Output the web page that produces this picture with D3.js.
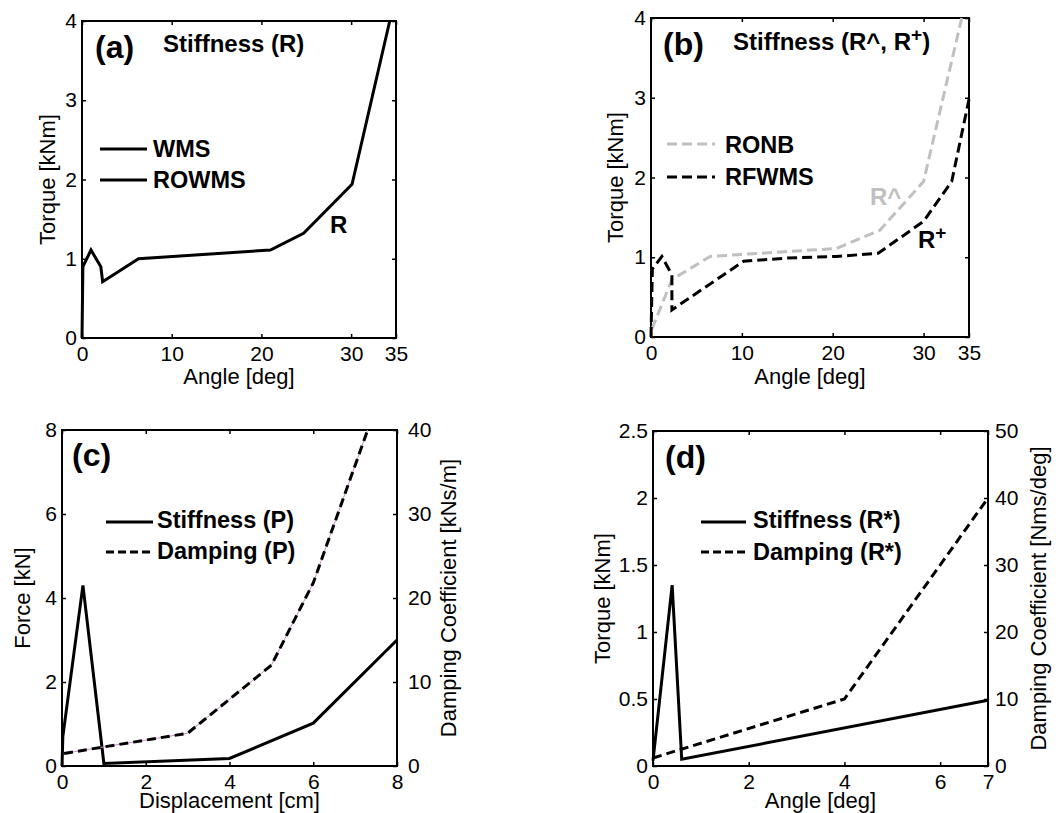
<!DOCTYPE html>
<html>
<head>
<meta charset="utf-8">
<script src="https://cdn.jsdelivr.net/npm/d3@7"></script>
<style>
	body { margin: 0; background: #fff; }
	text { font-family: "Liberation Sans", Arial, Helvetica, sans-serif; fill: #000; }
</style>
</head>
<body>
<svg id="chart" width="1058" height="813"></svg>
<script>
// ---- data ----
// (a) stiffness R
const angleA  = [0, 0.1, 1.0, 2.1, 2.3, 6.3, 21.0, 24.7, 30.1, 34.3];
const torqueA = [0, 0.9, 1.11, 0.9, 0.71, 1.0, 1.11, 1.32, 1.94, 4.0];

// (b) stiffness R^ (RONB) and R+ (RFWMS)
const angleRonb  = [0.1, 2.3, 6.5, 20.4, 25.2, 30.0, 34.2];
const torqueRonb = [0.1, 0.72, 1.01, 1.11, 1.34, 1.95, 4.0];
const angleRfwms  = [0, 0.15, 1.2, 2.3, 2.3, 10.2, 15.0, 20.4, 25.0, 30.0, 33.1, 35.0];
const torqueRfwms = [0, 0.85, 1.01, 0.78, 0.34, 0.95, 0.99, 1.01, 1.05, 1.45, 1.95, 2.98];

// (c) stiffness and damping P
const dispStiffP  = [0, 0.02, 0.5, 1.0, 4.0, 6.0, 8.0];
const forceStiffP = [0, 0.7, 4.3, 0.06, 0.18, 1.02, 3.0];
const dispDampP   = [0.05, 3.0, 5.0, 6.0, 7.3];
const coefDampP   = [1.5, 3.9, 12.0, 21.8, 40.0];

// (d) stiffness and damping R*
const angleStiffR  = [0, 0.4, 0.6, 7.0];
const torqueStiffR = [0.04, 1.35, 0.05, 0.49];
const angleDampR   = [0, 4.0, 7.0];
const coefDampR    = [1.2, 10.0, 40.0];

// tick labels
const ticksAngle35 = [0, 10, 20, 30, 35];
const ticksTorque4 = [0, 1, 2, 3, 4];
const ticksDisp    = [0, 2, 4, 6, 8];
const ticksForce   = [0, 2, 4, 6, 8];
const ticksCoefP   = [0, 10, 20, 30, 40];
const ticksAngle7  = [0, 2, 4, 6, 7];
const ticksTorque25 = [0, 0.5, 1, 1.5, 2, 2.5];
const ticksCoefR   = [0, 10, 20, 30, 40, 50];

const svg = d3.select('#chart');
const grey = '#c0c0c0';

// builds one axes box with its ticks and titles, returns the scales
function panel(cfg) {
	let g = svg.append('g');
	let x = d3.scaleLinear().domain(cfg.xDomain).range([cfg.left, cfg.right]);
	let y = d3.scaleLinear().domain(cfg.yDomain).range([cfg.bottom, cfg.top]);
	let fmt = d => String(d);

	let styleAxis = sel => {
		sel.select('.domain').remove();
		sel.selectAll('line').attr('stroke', '#000').attr('stroke-width', 1.5);
		sel.selectAll('text').attr('font-size', 21).attr('font-family', null).attr('fill', '#000');
		sel.attr('font-family', null);
	};

	g.append('g').attr('transform', `translate(0,${cfg.bottom})`)
		.call(d3.axisBottom(x).tickValues(cfg.xTicks).tickFormat(fmt).tickSizeInner(-4).tickSizeOuter(0).tickPadding(8))
		.call(styleAxis);
	g.append('g').attr('transform', `translate(0,${cfg.top})`)
		.call(d3.axisTop(x).tickValues(cfg.xTicks).tickFormat('').tickSizeInner(-4).tickSizeOuter(0))
		.call(styleAxis);
	g.append('g').attr('transform', `translate(${cfg.left},0)`)
		.call(d3.axisLeft(y).tickValues(cfg.yTicks).tickFormat(fmt).tickSizeInner(-4).tickSizeOuter(0).tickPadding(5))
		.call(styleAxis);

	let y2 = null;
	if (cfg.y2Domain) {
		y2 = d3.scaleLinear().domain(cfg.y2Domain).range([cfg.bottom, cfg.top]);
		g.append('g').attr('transform', `translate(${cfg.right},0)`)
			.call(d3.axisRight(y2).tickValues(cfg.y2Ticks).tickFormat(fmt).tickSizeInner(-4).tickSizeOuter(0).tickPadding(cfg.y2Pad))
			.call(styleAxis);
	} else {
		g.append('g').attr('transform', `translate(${cfg.right},0)`)
			.call(d3.axisRight(y).tickValues(cfg.yTicks).tickFormat('').tickSizeInner(-4).tickSizeOuter(0))
			.call(styleAxis);
	}

	// box
	g.append('rect')
		.attr('x', cfg.left).attr('y', cfg.top)
		.attr('width', cfg.right - cfg.left).attr('height', cfg.bottom - cfg.top)
		.attr('fill', 'none').attr('stroke', '#000').attr('stroke-width', 2);

	// axis titles
	let midY = (cfg.top + cfg.bottom) / 2;
	g.append('text').attr('x', (cfg.left + cfg.right) / 2).attr('y', cfg.xLabelY)
		.attr('text-anchor', 'middle').attr('font-size', 22).text(cfg.xLabel);
	g.append('text').attr('transform', `translate(${cfg.yLabelX},${midY}) rotate(-90)`)
		.attr('dy', '0.36em').attr('text-anchor', 'middle').attr('font-size', 22).text(cfg.yLabel);
	if (cfg.y2Label) {
		g.append('text').attr('transform', `translate(${cfg.y2LabelX},${midY}) rotate(-90)`)
			.attr('dy', '0.36em').attr('text-anchor', 'middle').attr('font-size', 22).text(cfg.y2Label);
	}

	// panel letter
	g.append('text').attr('x', cfg.tag[0]).attr('y', cfg.tag[1])
		.attr('font-size', 32).attr('font-weight', 'bold').text(cfg.tagText);

	return { g, x, y, y2 };
}

function drawLine(p, xs, ys, opts) {
	let sx = p.x, sy = opts.right ? p.y2 : p.y;
	let line = d3.line().x(d => sx(d[0])).y(d => sy(d[1]));
	let path = p.g.append('path')
		.datum(d3.zip(xs, ys))
		.attr('d', line)
		.attr('fill', 'none')
		.attr('stroke', opts.color || '#000')
		.attr('stroke-width', opts.width || 3)
		.attr('stroke-linejoin', 'miter')
		.attr('stroke-miterlimit', 3);
	if (opts.dash) path.attr('stroke-dasharray', opts.dash);
	return path;
}

function legendItem(g, x0, x1, yLine, tx, ty, label, opts) {
	let l = g.append('line').attr('x1', x0).attr('x2', x1).attr('y1', yLine).attr('y2', yLine)
		.attr('stroke', opts.color || '#000').attr('stroke-width', 3);
	if (opts.dash) l.attr('stroke-dasharray', opts.dash);
	g.append('text').attr('x', tx).attr('y', ty).attr('font-size', 23.5).attr('font-weight', 'bold').text(label);
}

// bold text; parts given as objects {sup: '+'} become superscripts
function boldText(g, x, y, parts, color, size) {
	let c = color || '#000';
	let t = g.append('text').attr('x', x).attr('y', y).attr('font-size', size || 24).attr('font-weight', 'bold')
		.style('fill', c);
	let back = null;
	parts.forEach(p => {
		if (typeof p === 'object') {
			t.append('tspan').attr('dy', -9).attr('font-size', 19).text(p.sup);
			back = 9;
		} else {
			let s = t.append('tspan').text(p);
			if (back) { s.attr('dy', back); back = null; }
		}
	});
	return t;
}

// ---- (a) ----
let pa = panel({
	left: 82, right: 396, top: 21, bottom: 338,
	xDomain: [0, 35], yDomain: [0, 4], xTicks: ticksAngle35, yTicks: ticksTorque4,
	xLabel: 'Angle [deg]', xLabelY: 384, yLabel: 'Torque [kNm]', yLabelX: 47,
	tag: [95, 58], tagText: '(a)'
});
drawLine(pa, angleA, torqueA, {});
boldText(pa.g, 163, 52, ['Stiffness (R)']);
legendItem(pa.g, 100, 147, 149, 153, 157, 'WMS', {});
legendItem(pa.g, 100, 147, 180, 153, 188, 'ROWMS', {});
boldText(pa.g, 330, 233, ['R']);

// ---- (b) ----
let pb = panel({
	left: 651, right: 969, top: 18, bottom: 337,
	xDomain: [0, 35], yDomain: [0, 4], xTicks: ticksAngle35, yTicks: ticksTorque4,
	xLabel: 'Angle [deg]', xLabelY: 384, yLabel: 'Torque [kNm]', yLabelX: 615,
	tag: [663, 55], tagText: '(b)'
});
drawLine(pb, angleRonb, torqueRonb, { color: grey, dash: '10,5' });
drawLine(pb, angleRfwms, torqueRfwms, { dash: '10,5' });
boldText(pb.g, 733, 50, ['Stiffness (R^, R', { sup: '+' }, ')']);
legendItem(pb.g, 667, 715, 144, 725, 153, 'RONB', { color: grey, dash: '10,5' });
legendItem(pb.g, 667, 715, 177, 725, 185, 'RFWMS', { dash: '10,5' });
boldText(pb.g, 870, 205, ['R^'], grey);
boldText(pb.g, 918, 248, ['R', { sup: '+' }]);

// ---- (c) ----
let pc = panel({
	left: 62, right: 397, top: 430, bottom: 766,
	xDomain: [0, 8], yDomain: [0, 8], xTicks: ticksDisp, yTicks: ticksForce,
	y2Domain: [0, 40], y2Ticks: ticksCoefP, y2Pad: 11,
	xLabel: 'Displacement [cm]', xLabelY: 808, yLabel: 'Force [kN]', yLabelX: 22,
	y2Label: 'Damping Coefficient [kNs/m]', y2LabelX: 448,
	tag: [72, 466], tagText: '(c)'
});
drawLine(pc, dispStiffP, forceStiffP, {});
drawLine(pc, dispDampP, coefDampP, { right: true, color: '#c890c8', width: 1 });
drawLine(pc, dispDampP, coefDampP, { right: true, dash: '9,5' });
legendItem(pc.g, 106, 153, 522, 157, 528, 'Stiffness (P)', {});
legendItem(pc.g, 106, 153, 552, 157, 559, 'Damping (P)', { dash: '8,4' });

// ---- (d) ----
let pd = panel({
	left: 653, right: 988, top: 431, bottom: 766,
	xDomain: [0, 7], yDomain: [0, 2.5], xTicks: ticksAngle7, yTicks: ticksTorque25,
	y2Domain: [0, 50], y2Ticks: ticksCoefR, y2Pad: 7,
	xLabel: 'Angle [deg]', xLabelY: 808, yLabel: 'Torque [kNm]', yLabelX: 602,
	y2Label: 'Damping Coefficient [Nms/deg]', y2LabelX: 1038,
	tag: [665, 468], tagText: '(d)'
});
drawLine(pd, angleStiffR, torqueStiffR, {});
drawLine(pd, angleDampR, coefDampR, { right: true, dash: '9,5' });
legendItem(pd.g, 701, 746, 522, 753, 528, 'Stiffness (R*)', {});
legendItem(pd.g, 701, 746, 552, 753, 560, 'Damping (R*)', { dash: '8,4' });
</script>
</body>
</html>
